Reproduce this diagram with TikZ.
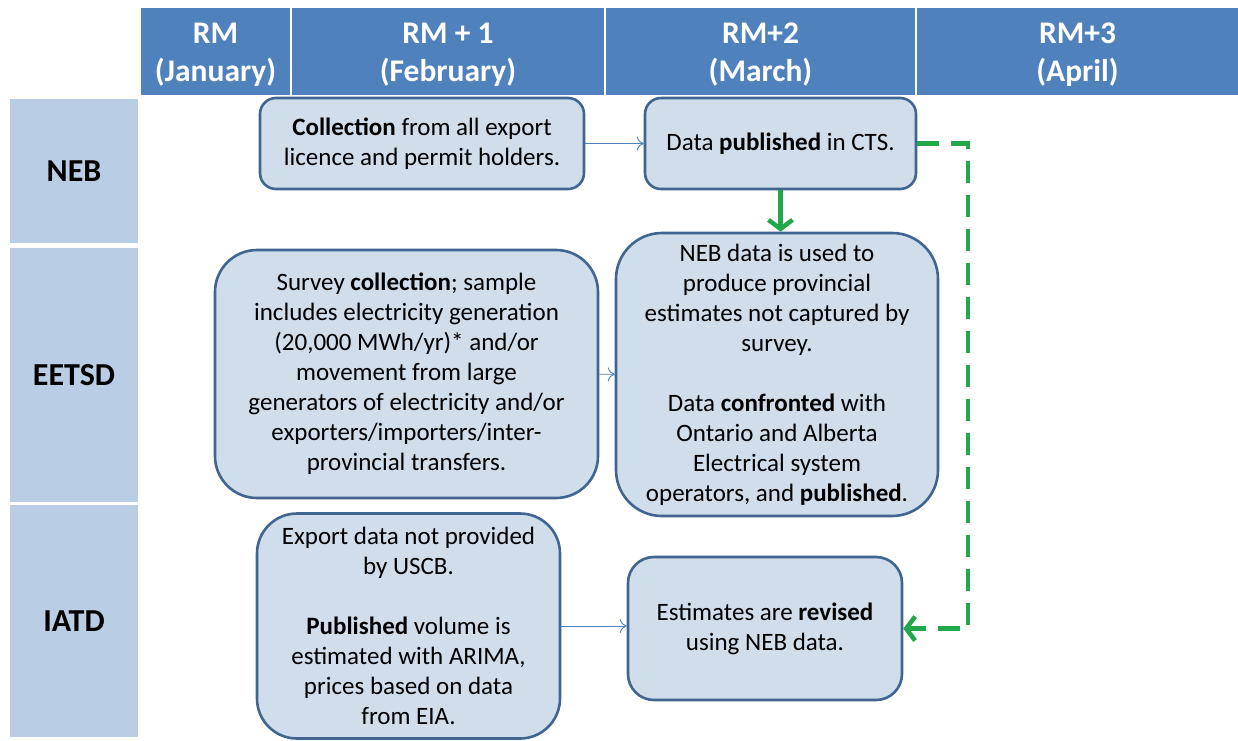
\documentclass[tikz,border=0pt]{standalone}
\usepackage{fontspec}
\setmainfont{Carlito}
\usetikzlibrary{arrows.meta}
\definecolor{hdrblue}{HTML}{4F81BD}
\definecolor{rowblue}{HTML}{B9CDE5}
\definecolor{boxfill}{HTML}{D0DDEB}
\definecolor{boxline}{HTML}{3F6590}
\definecolor{dashgreen}{HTML}{22A84A}
\newcommand{\hdrstrut}{\rule{0pt}{26pt}}

\begin{document}
\begin{tikzpicture}[x=1pt,y=-1pt,
    hdr/.style={fill=hdrblue, text=white, align=center, inner sep=0pt,
      font=\fontsize{31.5}{38}\selectfont\bfseries},
    rowlab/.style={fill=rowblue, minimum width=128, inner sep=0pt,
      font=\fontsize{32}{36}\selectfont\bfseries},
    stepbox/.style={draw=boxline, line width=2.6pt, fill=boxfill, align=center,
      inner sep=0pt, font=\fontsize{25}{30}\selectfont},
    flow/.style={hdrblue, line width=0.9pt, -{To[length=7pt,width=14pt]}},
    neb/.style={dashgreen, line width=4.5pt, dash pattern=on 22pt off 12pt,
      -{Straight Barb[length=9pt,width=24pt,line width=4.5pt]}}]
    \useasboundingbox (0,0) rectangle (1238,740);
    \fill[white] (0,0) rectangle (1238,740);

    \node[hdr, minimum width=149, minimum height=87] (rm0) at (215.5,51.5) {\hdrstrut RM\\(January)};
    \node[hdr, minimum width=312, minimum height=87] (rm1) at (448,51.5) {\hdrstrut RM + 1\\(February)};
    \node[hdr, minimum width=309, minimum height=87] (rm2) at (760.5,51.5) {\hdrstrut RM+2\\(March)};
    \node[hdr, minimum width=321, minimum height=87] (rm3) at (1077.5,51.5) {\hdrstrut RM+3\\(April)};

    \node[rowlab, minimum height=144] (neb) at (74,171) {NEB};
    \node[rowlab, minimum height=254] (eetsd) at (74,375) {EETSD};
    \node[rowlab, minimum height=232] (iatd) at (74,621) {IATD};

    \node[stepbox, rounded corners=16pt, minimum width=324, minimum height=91] (collect) at (422,143.5)
      {\textbf{Collection} from all export\\licence and permit holders.};
    \node[stepbox, rounded corners=16pt, minimum width=271, minimum height=91] (cts) at (780.5,143.5)
      {Data \textbf{published} in CTS.};
    \node[stepbox, rounded corners=42pt, minimum width=383, minimum height=248] (survey) at (406.5,374)
      {Survey \textbf{collection}; sample\\includes electricity generation\\(20,000 MWh/yr)* and/or\\movement from large\\generators of electricity and/or\\exporters/importers/inter-\\provincial transfers.};
    \node[stepbox, rounded corners=46pt, minimum width=322, minimum height=283] (provest) at (777,374.5)
      {NEB data is used to\\produce provincial\\estimates not captured by\\survey.\\\mbox{}\\Data \textbf{confronted} with\\Ontario and Alberta\\Electrical system\\operators, and \textbf{published}.};
    \node[stepbox, rounded corners=40pt, minimum width=303, minimum height=225] (export) at (408.5,626)
      {Export data not provided\\by USCB.\\\mbox{}\\\textbf{Published} volume is\\estimated with ARIMA,\\prices based on data\\from EIA.};
    \node[stepbox, rounded corners=26pt, minimum width=274, minimum height=143] (revise) at (765,628.5)
      {Estimates are \textbf{revised}\\using NEB data.};

    \coordinate (bend1) at (968,143.5);
    \coordinate (bend2) at (968,628.5);

    \draw[flow] (collect) -- (cts);
    \draw[flow] (survey) -- (provest);
    \draw[flow] (export.east) -- (export.east -| revise.west);
    \draw[neb, solid] (cts.south) -- (cts.south |- provest.north);
    \draw[neb] (cts.east) -- (bend1) -- (bend2) -- (revise.east);
\end{tikzpicture}
\end{document}
